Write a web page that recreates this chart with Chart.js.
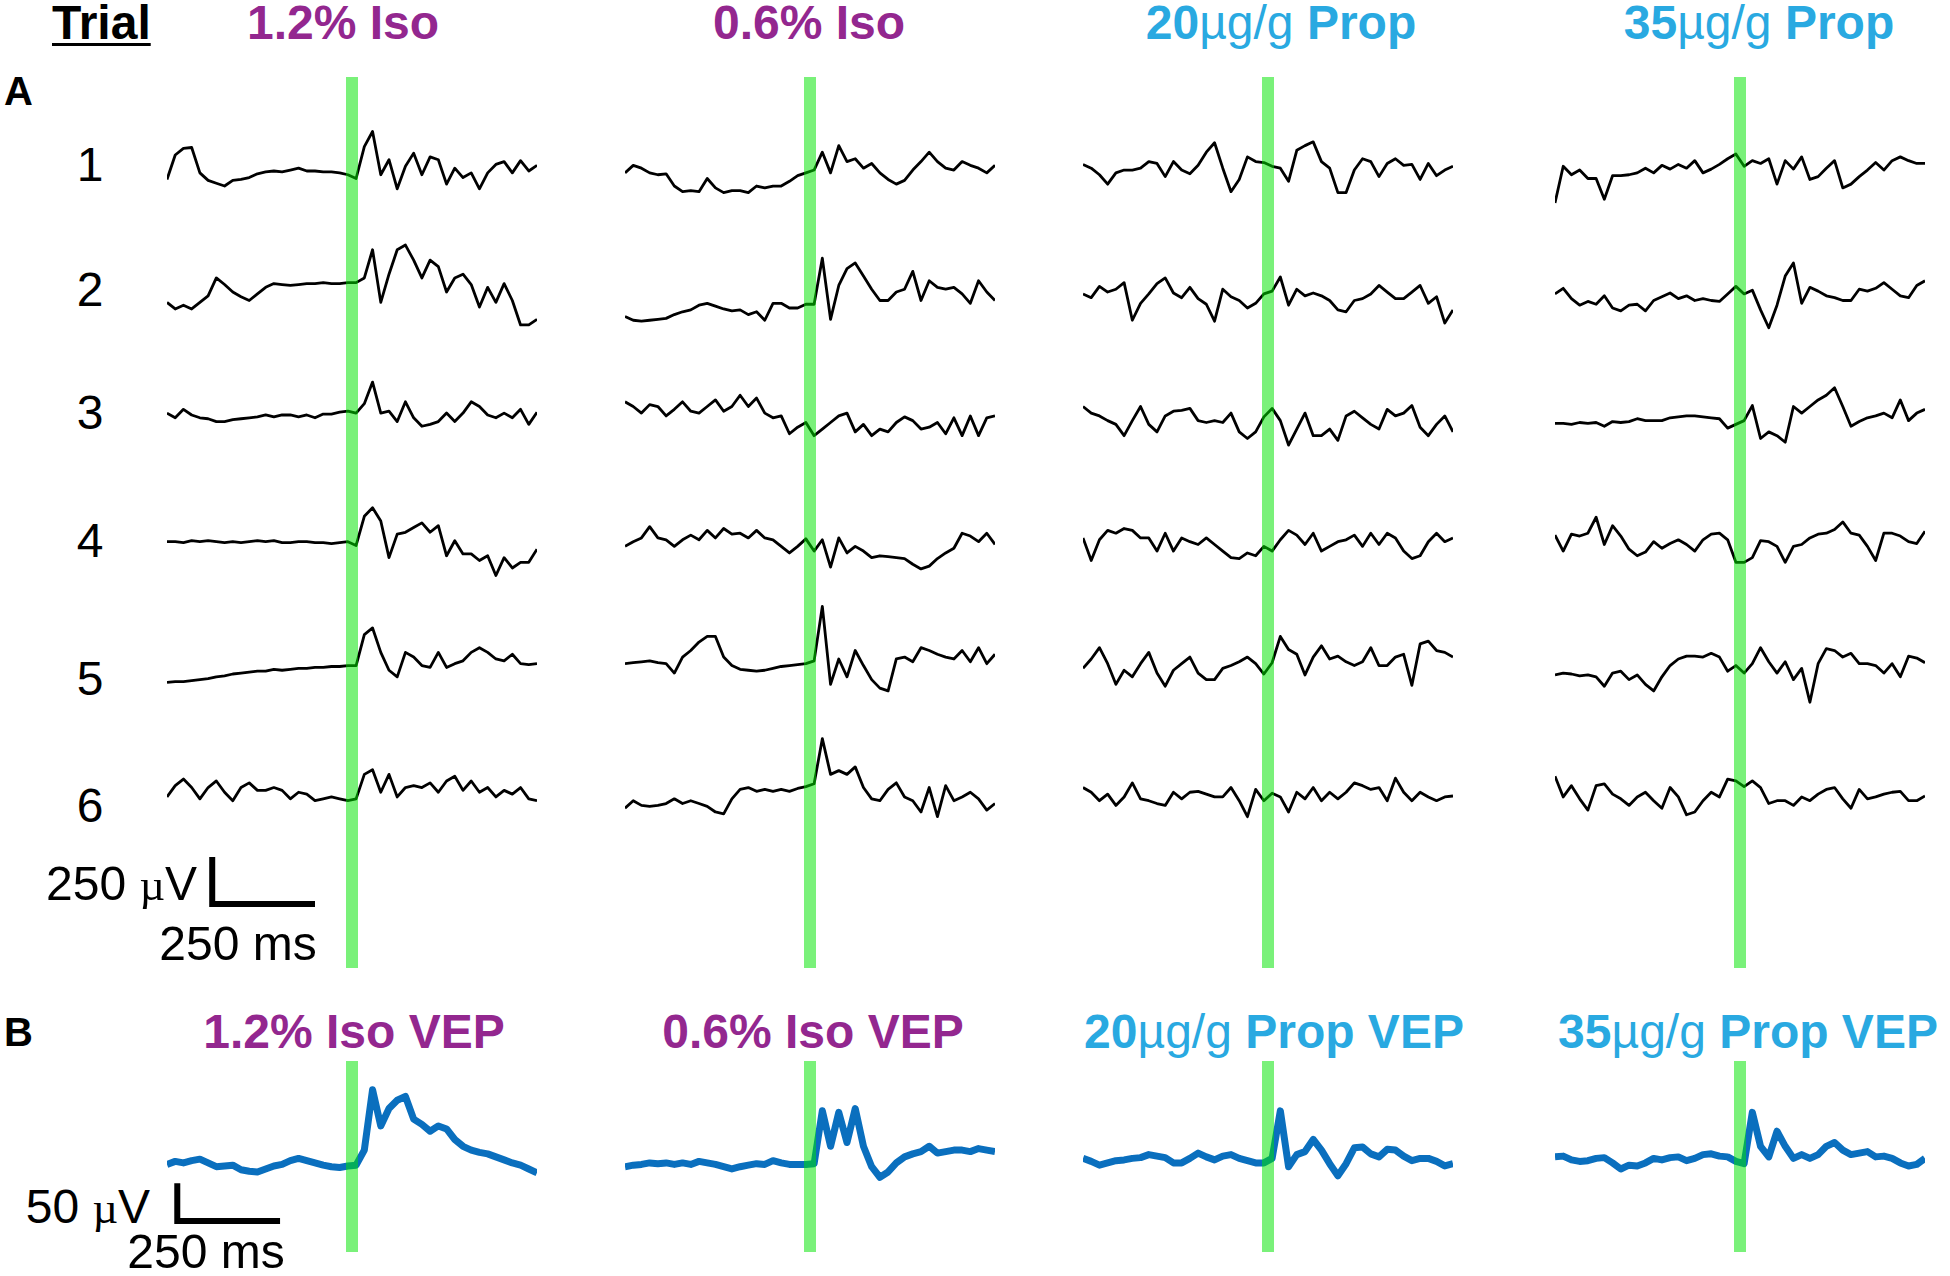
<!DOCTYPE html>
<html lang="en">
<head>
<meta charset="UTF-8">
<title>Single trials and VEP</title>
<script src="https://cdn.jsdelivr.net/npm/chart.js@4.4.0/dist/chart.umd.min.js"></script>
<style>
  html, body { margin: 0; padding: 0; background: #fff; }
  #page { position: relative; width: 1950px; height: 1276px; overflow: hidden;
          font-family: "Liberation Sans", Arial, sans-serif; color: #000; }
  .lbl { position: absolute; white-space: nowrap; line-height: 1; font-size: 48px; transform: translate(-50%, -50%); }
  .right { transform: translate(-100%, -50%); }
  .left { transform: translate(0, -50%); }
  .bold { font-weight: 700; }
  .thin { font-weight: 400; }
  .mu { font-family: "Liberation Serif", serif; font-size: 0.92em; }
  canvas { position: absolute; }
</style>
</head>
<body>
<div id="page"></div>
<script>
// time axis (ms, stimulus at 0)
const TIME_MS = [-450, -430, -410, -390, -370, -350, -330, -310, -290, -270, -250, -230, -210, -190, -170, -150,
  -130, -110, -90, -70, -50, -30, -10, 10, 30, 50, 70, 90, 110, 130, 150, 170, 190, 210, 230, 250, 270, 290,
  310, 330, 350, 370, 390, 410, 430, 450];

const COLUMN_TITLES = ['1.2% Iso', '0.6% Iso', '20µg/g Prop', '35µg/g Prop'];
const TRIAL_LABELS = ['1', '2', '3', '4', '5', '6'];

// single trials, µV
const iso12Trials = [
  [-25, 105, 140, 145, 10, -30, -45, -60, -30, -25, -15, 5, 15, 20, 15, 25, 35, 20, 20, 15, 15, 10, 0, -20, 150, 230, 0, 80, -75, 45, 115, 0, 95, 80, -50, 35, -15, 10, -75, 10, 55, 70, 10, 75, 20, 50],
  [-15, -50, -30, -50, -15, 20, 115, 80, 40, 15, -5, 30, 65, 85, 80, 75, 80, 85, 85, 90, 85, 85, 90, 90, 115, 265, -15, 135, 265, 290, 210, 115, 210, 175, 40, 115, 135, 80, -40, 65, -15, 85, -5, -135, -135, -105],
  [60, 35, 80, 50, 35, 30, 15, 15, 25, 30, 35, 40, 50, 40, 50, 50, 40, 50, 35, 55, 55, 65, 70, 60, 110, 225, 60, 70, 15, 120, 35, -10, 0, 15, 60, 15, 60, 120, 95, 50, 35, 60, 35, 80, 0, 65],
  [40, 40, 35, 45, 40, 45, 40, 35, 40, 35, 40, 45, 40, 45, 35, 35, 40, 40, 35, 35, 30, 35, 40, 20, 175, 220, 150, -45, 80, 90, 115, 140, 90, 125, -35, 45, -25, -25, -60, -35, -140, -45, -100, -70, -70, 0],
  [-45, -40, -40, -35, -30, -25, -15, -10, 0, 5, 10, 15, 15, 25, 20, 25, 30, 30, 35, 35, 40, 40, 45, 45, 210, 245, 115, 20, -15, 115, 90, 45, 35, 115, 35, 55, 70, 115, 140, 115, 80, 70, 105, 55, 50, 55],
  [10, 70, 105, 60, 0, 60, 95, 35, -10, 60, 85, 45, 45, 60, 45, 0, 35, 25, -10, 0, 10, 0, -10, 0, 130, 155, 35, 130, 10, 60, 70, 60, 85, 35, 95, 120, 45, 95, 35, 60, 10, 45, 25, 60, 0, -10]
];
const iso06Trials = [
  [10, 50, 35, 10, 0, 5, -60, -90, -85, -90, -20, -70, -95, -85, -85, -95, -60, -70, -60, -60, -35, -5, 10, 25, 120, 10, 155, 70, 85, 35, 60, 10, -25, -50, -30, 25, 70, 120, 70, 35, 25, 70, 50, 35, 10, 50],
  [-90, -110, -115, -110, -105, -100, -80, -65, -55, -30, -20, -35, -50, -60, -55, -80, -65, -110, -20, -20, -45, -45, -25, -25, 220, -105, 75, 165, 195, 125, 55, -5, -5, 40, 55, 150, -5, 100, 65, 55, 65, 30, -20, 100, 40, -5],
  [120, 95, 60, 105, 95, 45, 80, 120, 70, 60, 95, 130, 70, 95, 155, 95, 140, 60, 35, 45, -50, -15, 10, -60, -25, 10, 45, 60, -40, 0, -60, -25, -40, 10, 40, 20, -25, -15, 10, -50, 35, -60, 45, -60, 35, 45],
  [15, 40, 60, 120, 60, 50, 15, 50, 75, 50, 100, 60, 110, 80, 85, 60, 100, 60, 50, 15, -20, 15, 55, -10, 50, -95, 60, -20, 15, -10, -45, -35, -40, -45, -50, -80, -105, -90, -50, -20, 5, 85, 70, 40, 85, 25],
  [55, 60, 65, 70, 60, 55, 5, 90, 125, 170, 200, 200, 90, 45, 25, 20, 15, 20, 30, 40, 45, 50, 55, 70, 360, -55, 80, -15, 125, 45, -30, -75, -90, 80, 90, 65, 140, 125, 105, 90, 80, 125, 65, 140, 55, 105],
  [-50, -10, -35, -40, -35, -25, 0, -25, -10, -25, -40, -70, -80, 0, 50, 60, 40, 50, 40, 50, 40, 55, 65, 80, 320, 130, 150, 130, 170, 60, 0, -10, 50, 85, 10, -10, -70, 60, -95, 70, -10, 10, 35, 0, -60, -25]
];
const prop20Trials = [
  [55, 35, 0, -50, 10, 25, 25, 35, 70, 60, -10, 70, 25, 5, 50, 120, 170, 35, -90, -25, 95, 70, 65, 45, 35, -35, 130, 155, 175, 70, 35, -95, -95, 25, 85, 70, -10, 60, 85, 50, 55, -25, 60, -5, 25, 45],
  [30, 10, 70, 40, 55, 90, -110, -20, 30, 85, 115, 35, 10, 65, 5, -25, -115, 55, 15, -5, -45, -20, 30, 45, 120, -30, 55, 20, 35, 20, -5, -55, -65, -5, 5, 30, 75, 40, 5, 5, 40, 75, -20, 15, -125, -55],
  [95, 60, 45, 20, 0, -60, 20, 95, 0, -40, 45, 70, 75, 85, 20, 10, 20, 10, 60, -40, -75, -40, 40, 85, 20, -110, -25, 60, -60, -60, -25, -85, 45, 70, 35, 0, -25, 80, 45, 60, 100, -15, -60, 0, 45, -40],
  [60, -60, 50, 100, 85, 110, 100, 60, 60, -10, 85, -10, 60, 40, 25, 60, 25, -10, -45, -50, -20, -35, 15, -10, 50, 100, 75, 25, 85, -10, 15, 40, 50, 75, 15, 85, 25, 85, 60, -10, -50, -35, 40, 85, 40, 60],
  [30, 80, 140, 55, -55, 20, -15, 55, 115, 5, -65, 20, 55, 90, 5, -30, -30, 30, 45, 65, 90, 55, 0, 60, 200, 130, 105, -5, 90, 150, 80, 95, 65, 45, 65, 140, 45, 45, 90, 105, -60, 160, 175, 125, 115, 90],
  [60, 35, -10, 25, -35, 10, 85, 0, -10, -25, -35, 35, 0, 35, 40, 25, 10, 10, 60, -10, -95, 50, -10, 30, 10, -70, 35, 0, 60, -10, 35, 0, 35, 85, 70, 50, 60, -10, 110, 35, -10, 35, 10, -10, 10, 15]
];
const prop35Trials = [
  [-150, 45, 0, 25, -20, -20, -130, -5, -5, 0, 10, 35, 10, 50, 30, 55, 35, 75, 10, 30, 55, 85, 110, 45, 75, 60, 85, -50, 75, 30, 95, -25, -10, 35, 75, -70, -50, -10, 25, 65, 25, 75, 95, 75, 60, 60],
  [30, 60, 5, -30, -10, -25, 20, -45, -60, -30, -25, -60, -5, 15, 35, 5, 20, -5, 5, -5, -10, 30, 70, 30, 50, -55, -150, -30, 125, 195, -20, 65, 45, 20, 10, -5, -5, 55, 45, 60, 90, 55, 20, 10, 75, 100],
  [5, 5, 0, 10, 5, 10, -10, 15, 10, 15, 30, 20, 20, 20, 35, 40, 45, 45, 40, 35, 30, -20, 0, 20, 100, -75, -40, -60, -95, 95, 60, 95, 130, 155, 195, 95, -10, 15, 35, 45, 60, 35, 130, 20, 60, 80],
  [75, -10, 80, 70, 85, 170, 25, 125, 70, 0, -35, -15, 40, 5, 30, 50, 25, -10, 50, 80, 85, 50, -70, -70, -45, 45, 40, 15, -70, 15, 25, 60, 80, 85, 105, 145, 85, 75, 15, -60, 85, 85, 70, 40, 30, 95],
  [-5, 5, 0, -10, -5, -15, -65, 5, 15, -30, -5, -55, -90, -15, 45, 80, 95, 95, 90, 110, 90, 15, 45, 5, 55, 140, 65, 5, 65, -30, 30, -150, 55, 135, 125, 90, 110, 55, 55, 45, 5, 55, -15, 95, 85, 60],
  [120, 10, 70, 0, -60, 70, 80, 25, 0, -35, 10, 35, -10, -50, 60, 10, -85, -70, -10, 35, 10, 105, 95, 65, 95, 60, -25, -10, -10, -35, 10, -10, 25, 50, 60, 0, -50, 50, 0, 10, 25, 35, 40, -10, -10, 15]
];

// averaged VEPs, µV
const iso12Vep = [1, 5, 3, 6, 8, 3, -2, -1, 0, -6, -8, -9, -5, -1, 1, 6, 9, 6, 3, 0, -2, -3, -1, 0, 20, 100, 52, 75, 86, 91, 61, 54, 45, 52, 48, 34, 25, 20, 17, 15, 11, 7, 3, 0, -5, -10];
const iso06Vep = [-2, 0, 1, 3, 2, 3, 1, 3, 1, 5, 3, 1, -2, -5, -2, 0, 2, 1, 6, 3, 1, 1, 1, 2, 72, 25, 70, 30, 75, 25, -2, -16, -9, 3, 11, 15, 18, 25, 16, 18, 20, 20, 18, 22, 20, 18];
const prop20Vep = [9, 5, 0, 3, 6, 7, 9, 10, 14, 12, 10, 3, 3, 9, 16, 11, 7, 12, 14, 9, 6, 3, 3, 9, 72, -2, 14, 18, 34, 20, 2, -14, 2, 23, 24, 15, 11, 21, 20, 12, 6, 9, 9, 5, -1, 2];
const prop35Vep = [11, 12, 7, 5, 6, 9, 10, 3, -5, 0, -1, 3, 9, 7, 10, 11, 6, 9, 14, 15, 12, 11, 5, 2, 70, 25, 11, 45, 25, 9, 14, 9, 14, 25, 30, 20, 14, 16, 18, 11, 12, 9, 3, -1, 1, 9];

const ROW_GAP = 664;          // µV between stacked trials
const TITLE_COLORS = ['#93278f', '#93278f', '#29a9e1', '#29a9e1'];
const COL_LEFT = [167, 625, 1083, 1555];
const TRACE_W = 370;
const PAD = 6;

const page = document.getElementById('page');

const stimulusBar = {
  id: 'stimulusBar',
  afterDatasetsDraw(chart) {
    const { ctx, chartArea, scales } = chart;
    const x = scales.x.getPixelForValue(0);
    ctx.save();
    ctx.fillStyle = 'rgba(0, 228, 0, 0.52)';
    ctx.fillRect(x - 6, chartArea.top, 12, chartArea.bottom - chartArea.top);
    ctx.restore();
  }
};

const scaleBar = {
  id: 'scaleBar',
  afterDraw(chart, args, o) {
    if (!o || o.dt === undefined) return;
    const { ctx, scales } = chart;
    const x0 = scales.x.getPixelForValue(o.t0);
    const x1 = scales.x.getPixelForValue(o.t0 + o.dt);
    const yb = scales.y.getPixelForValue(o.v0);
    const yt = scales.y.getPixelForValue(o.v0 + o.dv);
    ctx.save();
    ctx.strokeStyle = '#000';
    ctx.lineWidth = 6;
    ctx.lineJoin = 'miter';
    ctx.beginPath();
    ctx.moveTo(x0, yt);
    ctx.lineTo(x0, yb);
    ctx.lineTo(x1, yb);
    ctx.stroke();
    ctx.restore();
  }
};

function traceData(values, offset) {
  return TIME_MS.map((t, i) => ({ x: t, y: values[i] + offset }));
}

function makeChart(left, top, height, datasets, yMin, yMax, bar) {
  const c = document.createElement('canvas');
  const w = TRACE_W + 2 * PAD;
  c.width = w;
  c.height = height;
  c.style.left = (left - PAD) + 'px';
  c.style.top = top + 'px';
  c.style.width = w + 'px';
  c.style.height = height + 'px';
  page.appendChild(c);
  new Chart(c, {
    type: 'line',
    data: { datasets },
    options: {
      responsive: false,
      animation: false,
      layout: { padding: { left: PAD, right: PAD, top: 0, bottom: 0 } },
      scales: {
        x: { type: 'linear', min: -450, max: 450, display: false },
        y: { min: yMin, max: yMax, display: false }
      },
      elements: { point: { radius: 0 }, line: { tension: 0 } },
      plugins: { legend: { display: false }, tooltip: { enabled: false }, scaleBar: bar || {} }
    },
    plugins: bar ? [stimulusBar, scaleBar] : [stimulusBar]
  });
}

function addLabel(html, x, y, cls, style) {
  const d = document.createElement('div');
  d.className = 'lbl ' + (cls || '');
  d.innerHTML = html;
  d.style.left = x + 'px';
  d.style.top = y + 'px';
  if (style) Object.assign(d.style, style);
  page.appendChild(d);
}

function titleHtml(s) {
  return s.replace('µg/g', '<span class="thin">µg/g</span>');
}

// part A: stacked single trials
[iso12Trials, iso06Trials, prop20Trials, prop35Trials].forEach((trials, col) => {
  const datasets = trials.map((vals, r) => ({
    data: traceData(vals, -r * ROW_GAP),
    borderColor: '#000',
    borderWidth: 2.8,
    borderJoinStyle: 'round'
  }));
  const bar = col === 0 ? { t0: -340, dt: 250, v0: -3880, dv: 250 } : null;
  makeChart(COL_LEFT[col], 77, 891, datasets, -4220, 520, bar);
});

// part B: averaged VEPs
[iso12Vep, iso06Vep, prop20Vep, prop35Vep].forEach((vals, col) => {
  const datasets = [{
    data: traceData(vals, 0),
    borderColor: '#0a6fbe',
    borderWidth: 7,
    borderJoinStyle: 'round'
  }];
  const bar = col === 0 ? { t0: -425, dt: 250, v0: -74, dv: 50 } : null;
  makeChart(COL_LEFT[col], 1061, 191, datasets, -115, 138, bar);
});

// text
addLabel('Trial', 52, 23, 'left bold', { textDecoration: 'underline', textDecorationThickness: '3px', textUnderlineOffset: '4px' });
const headA = [343, 809, 1281, 1759];
const headB = [354, 813, 1274, 1748];
COLUMN_TITLES.forEach((t, i) => {
  addLabel(titleHtml(t), headA[i], 23, 'bold', { color: TITLE_COLORS[i] });
  addLabel(titleHtml(t + ' VEP'), headB[i], 1032, 'bold', { color: TITLE_COLORS[i] });
});
addLabel('A', 4, 91, 'left bold', { fontSize: '40px' });
addLabel('B', 4, 1032, 'left bold', { fontSize: '40px' });
const trialY = [165, 290, 413, 541, 679, 806];
TRIAL_LABELS.forEach((t, i) => addLabel(t, 90, trialY[i]));
addLabel('250 <span class="mu">µ</span>V', 197, 884, 'right');
addLabel('250 ms', 238, 944);
addLabel('50 <span class="mu">µ</span>V', 150, 1207, 'right');
addLabel('250 ms', 206, 1252);
</script>
</body>
</html>
